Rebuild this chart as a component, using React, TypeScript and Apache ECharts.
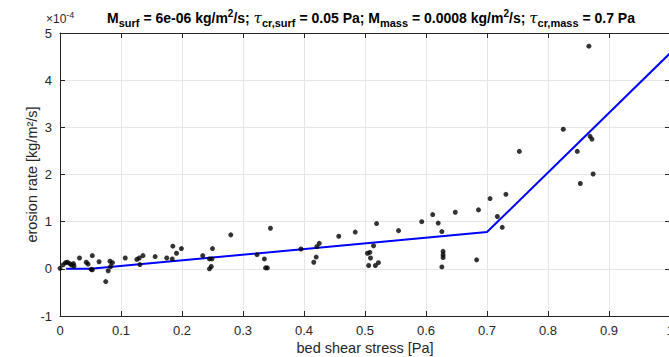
import React, { useEffect, useRef } from "react";
import * as echarts from "echarts";

// bed shear stress [Pa]
const tau: number[] = [
  0.0, 0.005, 0.009, 0.012, 0.016, 0.019, 0.022, 0.023, 0.032, 0.043,
  0.046, 0.051, 0.053, 0.053, 0.064, 0.075, 0.079, 0.082, 0.086, 0.083,
  0.107, 0.126, 0.13, 0.131, 0.136, 0.156, 0.175, 0.184, 0.185, 0.191,
  0.199, 0.234, 0.245, 0.249, 0.25, 0.245, 0.248, 0.28, 0.323, 0.335,
  0.337, 0.34, 0.345, 0.395, 0.416, 0.42, 0.421, 0.425, 0.457, 0.484,
  0.519, 0.514, 0.504, 0.508, 0.509, 0.506, 0.517, 0.522, 0.555, 0.593,
  0.611, 0.62, 0.626, 0.628, 0.628, 0.628, 0.626, 0.648, 0.686, 0.683,
  0.705, 0.717, 0.725, 0.731, 0.753, 0.825, 0.867, 0.848, 0.869, 0.872,
  0.853, 0.874,
];
// erosion rate [x1e-4 kg/m2/s]
const erosion: number[] = [
  0.01, 0.085, 0.13, 0.14, 0.11, 0.08, 0.11, 0.06, 0.23, 0.14,
  0.1, -0.01, -0.02, 0.28, 0.15, -0.27, -0.04, 0.16, 0.13, 0.05,
  0.23, 0.2, 0.23, 0.09, 0.28, 0.26, 0.23, 0.21, 0.48, 0.33,
  0.43, 0.28, 0.21, 0.21, 0.43, 0.0, 0.05, 0.72, 0.3, 0.21,
  0.02, 0.02, 0.86, 0.42, 0.14, 0.25, 0.47, 0.54, 0.69, 0.78,
  0.96, 0.49, 0.33, 0.35, 0.23, 0.07, 0.07, 0.13, 0.81, 1.0,
  1.15, 0.97, 0.79, 0.37, 0.3, 0.24, 0.04, 1.2, 1.25, 0.19,
  1.49, 1.11, 0.88, 1.58, 2.49, 2.96, 4.72, 2.49, 2.81, 2.75,
  1.81, 2.01,
];
// fitted erosion law
const fitTau: number[] = [0.01, 0.05, 0.7, 1.0];
const fitErosion: number[] = [0, 0, 0.78, 4.57];

const xTicks = { min: 0, max: 1, interval: 0.1 };
const yTicks = { min: -1, max: 5, interval: 1 };

const FONT = "Liberation Sans, Arial, Helvetica, sans-serif";
const AX = "#262626";
const GRID = "#e6e6e6";

export default function App() {
  const ref = useRef<HTMLDivElement>(null);
  useEffect(() => {
    if (!ref.current) return;
    const chart = echarts.init(ref.current, undefined, { renderer: "svg" });
    const scatterData = tau.map((t, i) => [t, erosion[i]]);
    const lineData = fitTau.map((t, i) => [t, fitErosion[i]]);
    const baseAxis = {
      axisLine: { show: true, onZero: false, lineStyle: { color: AX, width: 1 } },
      axisTick: { show: true, inside: true, length: 5, lineStyle: { color: AX } },
    };
    const b = { fontFamily: FONT, fontWeight: "bold" as const, fontSize: 14, color: "#000" };
    const sub = { ...b, fontSize: 11, padding: [9, 0, 0, 0] };
    const sup = { ...b, fontSize: 10, padding: [0, 0, 9, 0] };
    const greek = { ...b, fontWeight: "normal" as const, fontStyle: "italic" as const, fontSize: 15, fontFamily: "DejaVu Serif, serif" };
    chart.setOption({
      animation: false,
      grid: { left: 60, top: 33, width: 610, height: 283, outerBoundsMode: "none", containLabel: false },
      xAxis: [
        {
          type: "value",
          ...xTicks,
          position: "bottom",
          ...baseAxis,
          splitLine: { show: true, lineStyle: { color: GRID } },
          axisLabel: {
            color: AX,
            fontFamily: FONT,
            fontSize: 13,
            margin: 8,
            formatter: (v: number) => String(Number(v.toFixed(1))),
          },
          name: "bed shear stress [Pa]",
          nameLocation: "middle",
          nameGap: 24,
          nameMoveOverlap: false,
          nameTextStyle: { color: AX, fontFamily: FONT, fontSize: 14.5 },
        },
        {
          type: "value",
          ...xTicks,
          position: "top",
          ...baseAxis,
          splitLine: { show: false },
          axisLabel: { show: false },
        },
      ],
      yAxis: [
        {
          type: "value",
          ...yTicks,
          position: "left",
          ...baseAxis,
          splitLine: { show: true, lineStyle: { color: GRID } },
          axisLabel: { color: AX, fontFamily: FONT, fontSize: 13, margin: 8 },
          name: "erosion rate [kg/m²/s]",
          nameLocation: "middle",
          nameGap: 21,
          nameMoveOverlap: false,
          nameTextStyle: { color: AX, fontFamily: FONT, fontSize: 14.5 },
        },
        {
          type: "value",
          ...yTicks,
          position: "right",
          ...baseAxis,
          splitLine: { show: false },
          axisLabel: { show: false },
        },
      ],
      graphic: [
        {
          type: "text",
          x: 46,
          y: 19,
          style: {
            text: "×10{s|-4}",
            fontFamily: FONT,
            fontSize: 12,
            fill: AX,
            verticalAlign: "middle",
            rich: { s: { fontFamily: FONT, fontSize: 9, fill: AX, padding: [0, 0, 8, 0] } },
          } as any,
        },
        {
          type: "text",
          x: 371,
          y: 18,
          style: {
            text:
              "{b|M}{sub|surf}{b| = 6e-06 kg/m}{sup|2}{b|/s; }{g|τ}{sub|cr,surf}{b| = 0.05 Pa; M}{sub|mass}{b| = 0.0008 kg/m}{sup|2}{b|/s; }{g|τ}{sub|cr,mass}{b| = 0.7 Pa}",
            align: "center",
            verticalAlign: "middle",
            rich: { b, sub, sup, g: greek },
          } as any,
        },
      ],
      series: [
        {
          type: "line",
          data: lineData,
          symbol: "none",
          lineStyle: { color: "#0000ff", width: 2 },
          z: 2,
        },
        {
          type: "scatter",
          data: scatterData,
          symbol: "circle",
          symbolSize: 5,
          itemStyle: { color: "#000" },
          z: 3,
        },
      ],
    });
    return () => chart.dispose();
  }, []);
  return (
    <div
      ref={ref}
      style={{ position: "fixed", left: 0, top: 0, width: 669, height: 357, background: "#fff" }}
    />
  );
}
